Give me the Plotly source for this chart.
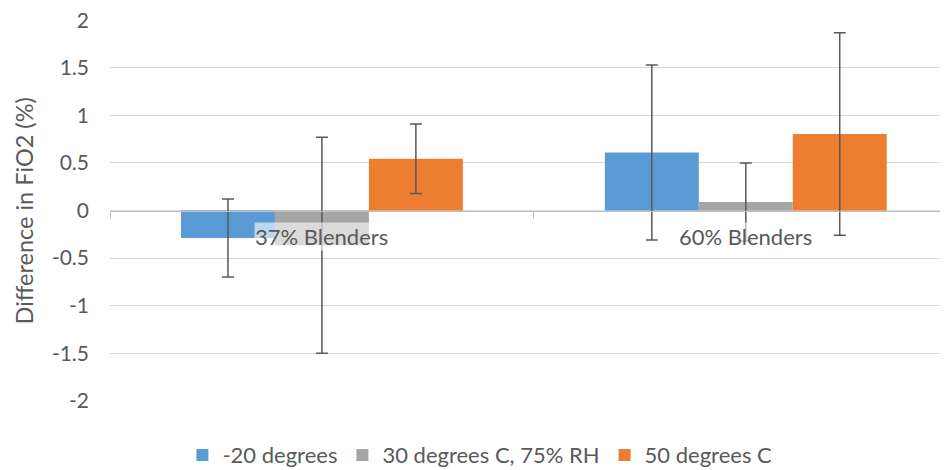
import plotly.graph_objects as go

categories = ["37% Blenders", "60% Blenders"]
series_names = ["-20 degrees", "30 degrees C, 75% RH", "50 degrees C"]
minus20 = [-0.29, 0.61]
minus20_err = [0.41, 0.92]
deg30 = [-0.365, 0.09]
deg30_err = [1.135, 0.41]
deg50 = [0.545, 0.805]
deg50_err = [0.365, 1.065]
y_ticks = [-2, -1.5, -1, -0.5, 0, 0.5, 1, 1.5, 2]
y_title = "Difference in FiO2 (%)"

colors = ["#5B9BD5", "#A5A5A5", "#ED7D31"]
font_family = "Lato, 'Open Sans', sans-serif"
txt = "#595959"
fs = 22

fig = go.Figure()
for name, vals, errs, c in zip(series_names, [minus20, deg30, deg50],
                               [minus20_err, deg30_err, deg50_err], colors):
    fig.add_trace(go.Bar(
        x=categories, y=vals, name=name, marker=dict(color=c, line=dict(width=0)),
        error_y=dict(type="data", array=errs, visible=True, color="#595959",
                     thickness=1.5, width=6),
    ))

for cat in categories:
    fig.add_annotation(x=cat, y=0, xref="x", yref="y", text=cat, showarrow=False,
                       yshift=-26, font=dict(family=font_family, size=fs, color=txt),
                       bgcolor="rgba(255,255,255,0.6)", borderpad=0)

fig.add_annotation(x=-0.103, y=0.5, xref="paper", yref="paper", text=y_title,
                   textangle=-90, showarrow=False, xanchor="center", yanchor="middle",
                   font=dict(family=font_family, size=23.5, color=txt))

# page body has an 8px margin, so the figure is sized/offset to compensate
fig.update_layout(
    width=940, height=462,
    margin=dict(l=102, r=3, t=12, b=69, autoexpand=False),
    paper_bgcolor="white", plot_bgcolor="white",
    barmode="group", bargap=0.335, bargroupgap=0,
    font=dict(family=font_family, color=txt, size=fs),
    legend=dict(orientation="h", x=0.443, xanchor="center", y=-0.142, yanchor="middle",
                font=dict(size=fs, color=txt), traceorder="normal",
                itemwidth=30),
    showlegend=True,
)
fig.update_yaxes(range=[-2.003, 2.003], tickvals=y_ticks, ticktext=[f"{v:g}" for v in y_ticks],
                 showgrid=True, gridcolor="#D9D9D9", gridwidth=1, zeroline=False,
                 showline=False, ticks="", ticklabelstandoff=20, ticklabeloverflow="allow",
                 tickfont=dict(size=21, color=txt))
fig.update_xaxes(type="category", range=[-0.5, 1.47], anchor="free", position=0.5,
                 showline=True, linecolor="#BFBFBF", linewidth=1,
                 ticks="outside", tickson="boundaries", ticklen=6, tickcolor="#BFBFBF",
                 showticklabels=False, showgrid=False)

fig.write_html("out.html")
